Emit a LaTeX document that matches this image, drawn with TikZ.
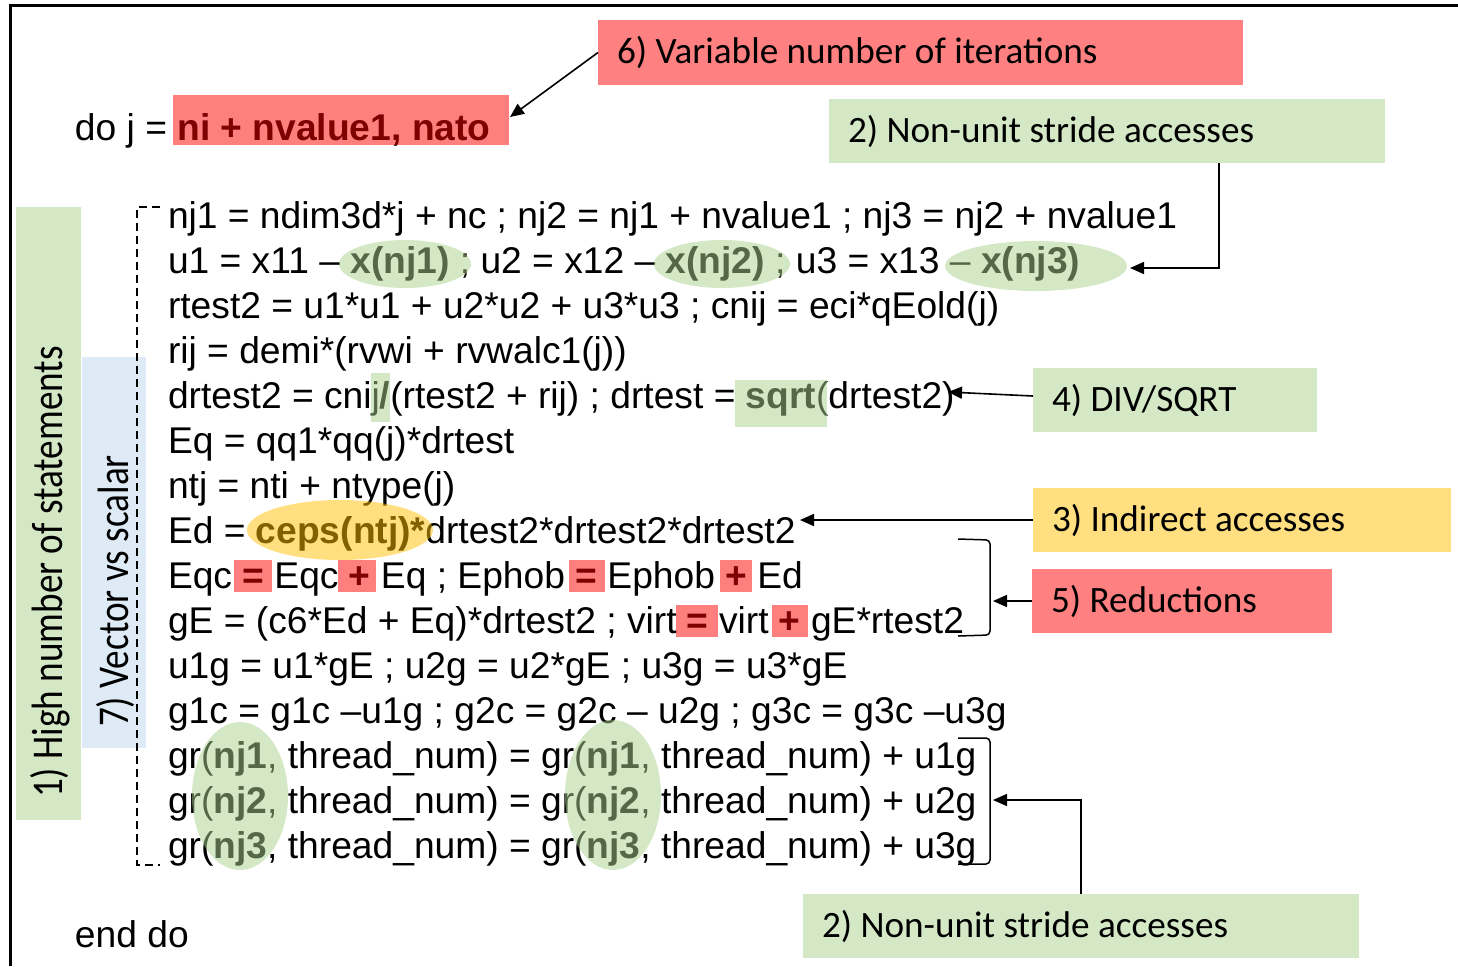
\documentclass[tikz,border=0pt]{standalone}
\usepackage{fontspec}
\setmainfont{Liberation Sans}
\newfontfamily\labelfont{Carlito}
\usetikzlibrary{arrows.meta,calc}

% overlay colours (used at half opacity) and the matching flat tints
\definecolor{hlgreen}{RGB}{169,209,142}
\definecolor{hlred}{RGB}{255,0,0}
\definecolor{hlgold}{RGB}{255,192,0}
\definecolor{boxgreen}{RGB}{212,232,198}
\definecolor{boxred}{RGB}{255,128,128}
\definecolor{boxgold}{RGB}{255,223,128}
\definecolor{boxblue}{RGB}{222,235,247}

% left-aligned label of a fixed width
\newcommand{\notetext}[2]{\makebox[#1][l]{#2}}

\begin{document}
\begin{tikzpicture}[x=0.5pt,y=-0.5pt,
  code/.style={anchor=base west, inner sep=0pt, outer sep=0pt,
    font=\fontsize{18.6}{22}\selectfont},
  note/.style={anchor=north west, inner xsep=9.5pt, inner ysep=0pt,
    outer sep=0pt, minimum height=32pt,
    font=\labelfont\fontsize{18.6}{22}\selectfont},
  sidebar/.style={inner sep=0pt, outer sep=0pt},
  sidetext/.style={rotate=90, inner sep=0pt, font=\labelfont\fontsize{18.6}{22}\selectfont},
  ovgreen/.style={fill=hlgreen, fill opacity=0.5},
  ovred/.style={fill=hlred, fill opacity=0.5},
  ovgold/.style={fill=hlgold, fill opacity=0.5},
  arr/.style={-{Triangle[length=7pt,width=6pt]}, line width=0.8pt},
  bracket/.style={line width=0.75pt, rounded corners=2pt},
]
\useasboundingbox (0,0) rectangle (1458,966);

% outer frame
\draw[line width=1.5pt] (10,966) -- (10,5) -- (1458,5);

% side bars
\node[sidebar, fill=boxgreen, minimum width=32.5pt, minimum height=306.5pt] (stmtbar) at (48.5,513.5) {};
\node[sidebar, fill=boxblue, minimum width=32pt, minimum height=195.5pt] (vecbar) at (114,552.5) {};
\node[sidetext] (stmt) at (50,572) {\scalebox{1}[1.18]{1) High number of statements}};
\node[sidetext] (vec) at (115,591) {\scalebox{1}[1.18]{7) Vector vs scalar}};

% dashed bracket round the loop body
\draw[dashed, dash pattern=on 4pt off 2.5pt, line width=0.6pt] (160,207) -- (137,207) -- (137,865) -- (160,865);

% loop header and footer
\node[code] (dohead) at (75,140) {do j = \textbf{ni + nvalue1, nato}};
\node[code] (enddo) at (75,947) {end do};

% loop body
\def\bl{228}
\def\ls{45}
\node[code] (L0) at (168,\bl+0*\ls) {nj1 = ndim3d*j + nc ; nj2 = nj1 + nvalue1 ; nj3 = nj2 + nvalue1};
\node[code] (L1) at (168,\bl+1*\ls) {u1 = x11 \textendash\ \textbf{x(nj1)} ; u2 = x12 \textendash\ \textbf{x(nj2)} ; u3 = x13 \textendash\ \textbf{x(nj3)}};
\node[code] (L2) at (168,\bl+2*\ls) {rtest2 = u1*u1 + u2*u2 + u3*u3 ; cnij = eci*qEold(j)};
\node[code] (L3) at (168,\bl+3*\ls) {rij = demi*(rvwi + rvwalc1(j))};
\node[code] (L4) at (168,\bl+4*\ls) {drtest2 = cnij\textbf{/}(rtest2 + rij) ; drtest = \textbf{sqrt}(drtest2)};
\node[code] (L5) at (168,\bl+5*\ls) {Eq = qq1*qq(j)*drtest};
\node[code] (L6) at (168,\bl+6*\ls) {ntj = nti + ntype(j)};
\node[code] (L7) at (168,\bl+7*\ls) {Ed = \textbf{ceps(ntj)*}drtest2*drtest2*drtest2};
\node[code] (L8) at (168,\bl+8*\ls) {Eqc \textbf{=} Eqc \textbf{+} Eq ; Ephob \textbf{=} Ephob \textbf{+} Ed};
\node[code] (L9) at (168,\bl+9*\ls) {gE = (c6*Ed + Eq)*drtest2 ; virt \textbf{=} virt \textbf{+} gE*rtest2};
\node[code] (L10) at (168,\bl+10*\ls) {u1g = u1*gE ; u2g = u2*gE ; u3g = u3*gE};
\node[code] (L11) at (168,\bl+11*\ls) {g1c = g1c \textendash u1g ; g2c = g2c \textendash\ u2g ; g3c = g3c \textendash u3g};
\node[code] (L12) at (168,\bl+12*\ls) {gr(\textbf{nj1}, thread\_num) = gr(\textbf{nj1}, thread\_num) + u1g};
\node[code] (L13) at (168,\bl+13*\ls) {gr(\textbf{nj2}, thread\_num) = gr(\textbf{nj2}, thread\_num) + u2g};
\node[code] (L14) at (168,\bl+14*\ls) {gr(\textbf{nj3}, thread\_num) = gr(\textbf{nj3}, thread\_num) + u3g};

% half-transparent highlights laid over the text
\fill[ovred] (173,95) rectangle (509,145);
\fill[ovgreen] (405,264) ellipse [x radius=66, y radius=24];
\fill[ovgreen] (722,264) ellipse [x radius=68, y radius=24];
\fill[ovgreen] (1036,266) ellipse [x radius=91, y radius=25];
\fill[ovgreen] (371,373) rectangle (390,422);
\fill[ovgreen] (735,380) rectangle (827,427);
\fill[ovgold] (340,530) ellipse [x radius=93, y radius=30];
\fill[ovred] (234,560) rectangle (272,592);
\fill[ovred] (338,560) rectangle (376,592);
\fill[ovred] (569,560) rectangle (605,592);
\fill[ovred] (720,560) rectangle (752,592);
\fill[ovred] (676,605) rectangle (718,637);
\fill[ovred] (772,605) rectangle (808,637);
\fill[ovgreen] (240,796) ellipse [x radius=48, y radius=74];
\fill[ovgreen] (613,795) ellipse [x radius=48, y radius=75];

% brackets grouping the reduction and scatter statements
\draw[bracket] (958,539) -- (990,540) -- (990,635) -- (958,636);
\draw[bracket] (958,738) -- (990,738) -- (990,864) -- (958,864);

% annotation boxes
\node[note, fill=boxred, minimum height=32.5pt] (n6) at (598,20) {\notetext{303.5pt}{6) Variable number of iterations}};
\node[note, fill=boxgreen] (n2t) at (829,99) {\notetext{259pt}{2) Non-unit stride accesses}};
\node[note, fill=boxgreen] (n4) at (1033,368) {\notetext{123pt}{4) DIV/SQRT}};
\node[note, fill=boxgold] (n3) at (1033,488) {\notetext{190pt}{3) Indirect accesses}};
\node[note, fill=boxred] (n5) at (1032,569) {\notetext{131pt}{5) Reductions}};
\node[note, fill=boxgreen] (n2b) at (803,894) {\notetext{259pt}{2) Non-unit stride accesses}};

% arrow targets
\coordinate (t6) at (510,117);
\coordinate (t2t) at (1130,268);
\coordinate (t4) at (948,392);
\coordinate (t3) at (800,520);
\coordinate (t5) at (993,601);
\coordinate (t2b) at (993,800);

% arrows
\draw[arr] (n6.west) -- (t6);
\draw[arr] ([xshift=56pt]n2t.south) |- (t2t);
\draw[arr] ([yshift=2pt]n4.west) -- (t4);
\draw[arr] (n3.west) -- (t3);
\draw[arr] (n5.west) -- (t5);
\draw[arr] (n2b.north) |- (t2b);
\end{tikzpicture}
\end{document}
